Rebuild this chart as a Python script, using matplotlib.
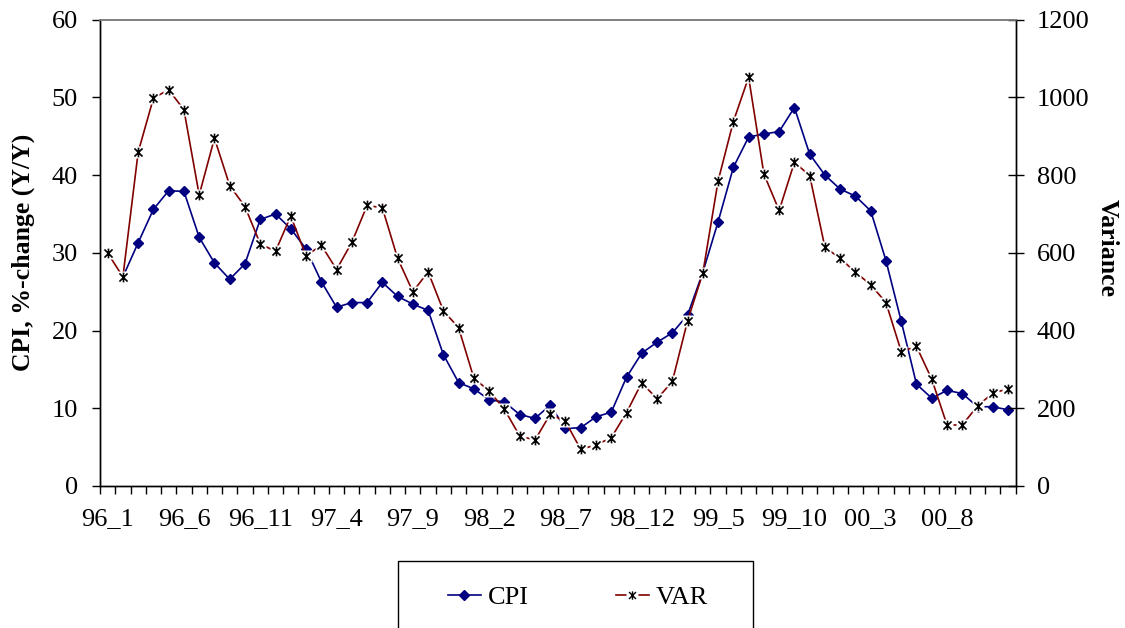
import numpy as np
import matplotlib
matplotlib.use("Agg")
import matplotlib.pyplot as plt
from matplotlib.path import Path
from matplotlib.patches import Rectangle

# months 96_1 .. 00_12
years = ['96', '97', '98', '99', '00']
months = [f"{y}_{m}" for y in years for m in range(1, 13)]
label_every = 5

# CPI, %-change (Y/Y) -- first month has no value
cpi = [np.nan, 26.9, 31.3, 35.6, 38.0, 37.9, 32.0, 28.7, 26.6, 28.6,
       34.3, 35.0, 33.1, 30.5, 26.3, 23.0, 23.6, 23.6, 26.2, 24.4,
       23.4, 22.6, 16.9, 13.3, 12.5, 11.1, 10.8, 9.2, 8.7, 10.4,
       7.4, 7.5, 8.9, 9.5, 14.0, 17.1, 18.5, 19.7, 22.0, 27.5,
       34.0, 41.0, 44.9, 45.3, 45.6, 48.7, 42.7, 40.0, 38.2, 37.3,
       35.4, 29.0, 21.2, 13.1, 11.3, 12.3, 11.9, 10.2, 10.2, 9.8]

# variance (right axis)
var = [600, 538, 859, 998, 1020, 968, 749, 895, 773, 719,
       623, 604, 695, 592, 620, 557, 627, 722, 716, 586,
       500, 551, 451, 407, 277, 245, 197, 129, 118, 185,
       166, 94, 106, 124, 189, 266, 224, 269, 425, 548,
       785, 938, 1052, 803, 709, 833, 799, 614, 586, 550,
       518, 472, 346, 359, 275, 157, 157, 206, 239, 250]

plt.rcParams['font.family'] = ['Liberation Serif', 'DejaVu Serif']

W, H = 1125, 628
fig = plt.figure(figsize=(W / 100, H / 100), dpi=100)
ax = fig.add_axes([100 / W, 1 - 486 / H, 915.7 / W, 466.3 / H])
ax2 = ax.twinx()

x = np.arange(len(months))

# excel-like asterisk: an x with a vertical bar
star = Path([(-1, -1), (1, 1), (-1, 1), (1, -1), (0, -1.2), (0, 1.2)],
            [Path.MOVETO, Path.LINETO, Path.MOVETO, Path.LINETO, Path.MOVETO, Path.LINETO])

ax.plot(x, cpi, color='#000080', lw=1.2, marker='D', ms=5,
        mfc='#000080', mec='#000080', zorder=2)

ax2.plot(x, var, color='#800000', lw=1.2, zorder=2)
ax2.plot(x, var, ls='none', marker='s', ms=8, mfc='white', mec='none', zorder=3)
ax2.plot(x, var, ls='none', marker=star, ms=7, mec='black', mew=1.2, zorder=4)

ax.set_xlim(-0.5, len(months) - 0.5)
ax.set_ylim(0, 60)
ax2.set_ylim(0, 1200)
ax.set_yticks(np.arange(0, 61, 10))
ax2.set_yticks(np.arange(0, 1201, 200))

# ticks between months, labels centred on every 5th month
ax.set_xticks(np.arange(-0.5, len(months), 1))
ax.set_xticklabels([])
ax.set_xticks(x[::label_every], minor=True)
ax.set_xticklabels(months[::label_every], minor=True)
ax.tick_params(axis='x', which='major', direction='out', length=6, width=1)
ax.tick_params(axis='x', which='minor', length=0, pad=16, labelsize=19)
ax.tick_params(axis='y', direction='out', length=6, width=1, pad=10, labelsize=19)
ax2.tick_params(axis='y', direction='inout', length=12, width=1, pad=9, labelsize=19)

for a in (ax, ax2):
    a.spines['top'].set_color('#808080')
    a.spines['top'].set_linewidth(1.2)
    for s in ('left', 'right', 'bottom'):
        a.spines[s].set_linewidth(1.0)

ax.set_ylabel('CPI, %-change (Y/Y)', fontsize=18.5, fontweight='bold')
ax.yaxis.set_label_coords(-0.071, 0.5)
ax2.set_ylabel('Variance', fontsize=18.5, fontweight='bold', rotation=270)
ax2.yaxis.set_label_coords(1.112, 0.51)

# legend box running off the bottom edge
fig.patches.append(Rectangle((398 / W, -0.05), (753 - 398) / W, 0.05 + 1 - 561 / H,
                             transform=fig.transFigure, fill=False,
                             edgecolor='black', lw=1.0))

h_cpi = plt.Line2D([], [], color='#000080', lw=1.2, marker='D', ms=5,
                   mfc='#000080', mec='#000080')
h_var = (plt.Line2D([], [], color='#800000', lw=1.2),
         plt.Line2D([], [], ls='none', marker='s', ms=8, mfc='white', mec='none'),
         plt.Line2D([], [], ls='none', marker=star, ms=6, mec='black', mew=1.0))
fig.legend([h_cpi, h_var], ['CPI', 'VAR'], ncol=2, frameon=False,
           loc='center left', bbox_to_anchor=(448 / W, 1 - 597 / H),
           borderpad=0, borderaxespad=0, fontsize=19,
           handlelength=1.25, handletextpad=0.25, columnspacing=3.3)

fig.savefig('out.png', dpi=100)
